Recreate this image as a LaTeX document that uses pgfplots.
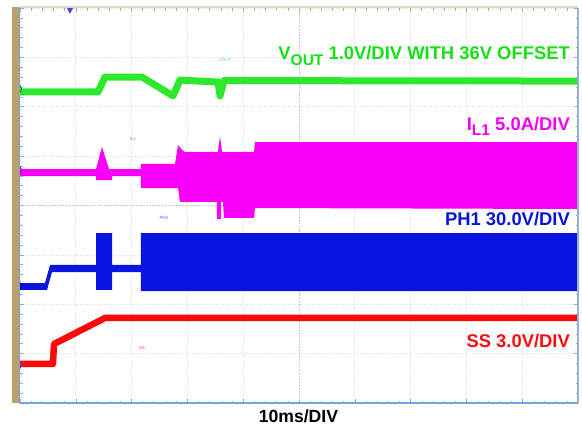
\documentclass[border=0pt]{standalone}
\usepackage{pgfplots}
\pgfplotsset{compat=1.18}
\usepackage{fontspec}
\setmainfont{Liberation Sans}
\definecolor{trgreen}{RGB}{45,232,45}
\definecolor{lbgreen}{RGB}{20,226,20}
\definecolor{trmag}{RGB}{250,0,250}
\definecolor{lbmag}{RGB}{245,0,235}
\definecolor{trblue}{RGB}{10,20,225}
\definecolor{lbblue}{RGB}{10,20,215}
\definecolor{trred}{RGB}{250,10,10}
\definecolor{lbred}{RGB}{245,15,15}
\definecolor{scopetan}{RGB}{188,160,102}
\definecolor{gridgray}{RGB}{218,222,228}
\definecolor{tickblue}{RGB}{150,175,210}
\definecolor{frameblue}{RGB}{110,165,230}
\definecolor{frametop}{RGB}{225,215,190}
\newcommand{\bigfont}{\fontsize{18.4bp}{20bp}\selectfont\bfseries}
\newcommand{\subfont}{\fontsize{15.5bp}{17bp}\selectfont\bfseries}
\newcommand{\tinyfont}{\fontsize{4.5bp}{5bp}\selectfont}
\begin{document}
\begin{tikzpicture}
\useasboundingbox (-20bp,-25bp) rectangle (562bp,403bp);
\fill[white] (-20bp,-25bp) rectangle (562bp,403bp);
\begin{axis}[
  at={(0,0)}, anchor=south west,
  width=558bp, height=395bp, scale only axis,
  xmin=0, xmax=100, ymin=0, ymax=8,
  xtick={0,10,...,100}, ytick={0,1,...,8},
  xticklabels={}, yticklabels={},
  minor x tick num=4, minor y tick num=4,
  tick align=inside, tick pos=both,
  major tick length=4bp, minor tick length=2.5bp,
  every tick/.style={color=tickblue, line width=0.6bp},
  grid=major,
  major grid style={gridgray, dotted, line width=0.7bp},
  axis line style={draw=none},
  clip=false,
]
% centre cross lines
\draw[gray!55, dotted, line width=0.9bp] (axis cs:50,0) -- (axis cs:50,8);
\draw[gray!55, dotted, line width=0.9bp] (axis cs:0,4) -- (axis cs:100,4);

% IL1 (magenta) envelope
\addplot[fill=trmag, draw=none] coordinates {
 (0,4.739) (13.62,4.739) (14.70,5.185) (15.95,4.739) (21.68,4.739)
 (21.68,4.841) (27.78,4.841) (28.32,5.225) (29.03,5.124) (29.57,5.084)
 (35.48,5.084) (35.84,5.408) (36.20,5.084) (41.94,5.084) (42.11,5.286)
 (100,5.286)
 (100,3.929) (42.11,3.949) (41.94,3.747) (36.56,3.747) (36.38,4.071)
 (36.02,4.071) (36.02,3.727) (35.30,3.727) (35.30,4.071)
 (28.67,4.071) (28.32,4.354) (21.68,4.354) (21.68,4.597)
 (16.49,4.597) (16.49,4.516) (13.62,4.516) (13.62,4.597) (0,4.597)
};
% PH1 (blue) envelope
\addplot[fill=trblue, draw=none] coordinates {
 (0,2.430) (4.48,2.430) (5.38,2.795) (13.62,2.795) (13.62,3.443)
 (16.49,3.443) (16.49,2.795) (21.68,2.795) (21.68,3.443) (100,3.443)
 (100,2.268) (21.68,2.268) (21.68,2.653) (16.49,2.653) (16.49,2.289)
 (13.62,2.289) (13.62,2.653) (5.73,2.653) (4.84,2.289) (0,2.289)
};
% VOUT (green)
\addplot[trgreen, line width=7bp, line join=round] coordinates {
 (0,6.30) (13.98,6.30) (15.23,6.60) (21.86,6.60) (27.42,6.22)
 (28.67,6.54) (35.48,6.50) (35.84,6.22) (36.56,6.53) (100,6.52)
};
% SS (red)
\addplot[trred, line width=6.5bp, line join=round] coordinates {
 (0,0.790) (5.91,0.790) (6.09,1.195) (15.23,1.722) (100,1.722)
};

% trace labels
\node[lbgreen, anchor=base east, inner sep=0] at (axis cs:98.57,6.947)
  {\bigfont V\raisebox{-5.5bp}{\subfont OUT} 1.0V/DIV WITH 36V OFFSET};
\node[lbmag, anchor=base east, inner sep=0] at (axis cs:98.57,5.529)
  {\bigfont I\raisebox{-5bp}{\subfont L1} 5.0A/DIV};
\node[lbblue, anchor=base east, inner sep=0] at (axis cs:98.57,3.585)
  {\bigfont PH1 30.0V/DIV};
\node[lbred, anchor=base east, inner sep=0] at (axis cs:98.57,1.134)
  {\bigfont SS 3.0V/DIV};
\node[black, anchor=base, inner sep=0] at (axis cs:49.9,-0.385)
  {\fontsize{17.6bp}{19bp}\selectfont\bfseries 10ms/DIV};

% small on-screen channel names
\node[trgreen!80, inner sep=0] at (axis cs:36.74,6.95) {\tinyfont VOUT};
\node[trmag!70, inner sep=0] at (axis cs:20.25,5.35) {\tinyfont IL1};
\node[trblue!70, inner sep=0] at (axis cs:25.8,3.75) {\tinyfont PH1};
\node[trred!70, inner sep=0] at (axis cs:21.86,1.12) {\tinyfont SS};

% trigger marker
\fill[trblue!80] (axis cs:8.4,8) -- (axis cs:9.5,8) -- (axis cs:8.96,7.88) -- cycle;

% channel markers
\node[circle, fill=trgreen!70, draw=green!50!black, line width=0.9bp, minimum size=9bp, inner sep=0, text=white] at (axis cs:-0.54,6.36) {\tinyfont 4};
\node[circle, fill=trmag, draw=trmag!70!black, line width=0.9bp, minimum size=9bp, inner sep=0, text=white] at (axis cs:-0.54,4.72) {\tinyfont 3};
\node[circle, fill=trblue, draw=trblue!70!black, line width=0.9bp, minimum size=9bp, inner sep=0, text=white] at (axis cs:-0.54,2.37) {\tinyfont 1};
\node[circle, fill=trred, draw=trblue!80, line width=0.9bp, minimum size=9bp, inner sep=0, text=white] at (axis cs:-0.54,0.77) {\tinyfont 2};
\end{axis}
% screen frame
\fill[scopetan] (-8bp,0bp) rectangle (-1.5bp,396bp);
\draw[frametop, line width=2bp] (-1bp,395.5bp) -- (558bp,395.5bp);
\draw[frameblue, line width=1.5bp] (-0.5bp,0bp) -- (-0.5bp,395bp);
\draw[frameblue, line width=1.8bp] (-1bp,0bp) -- (558bp,0bp);
\draw[tickblue, line width=1.2bp] (558bp,0bp) -- (558bp,395bp);
\end{tikzpicture}
\end{document}
